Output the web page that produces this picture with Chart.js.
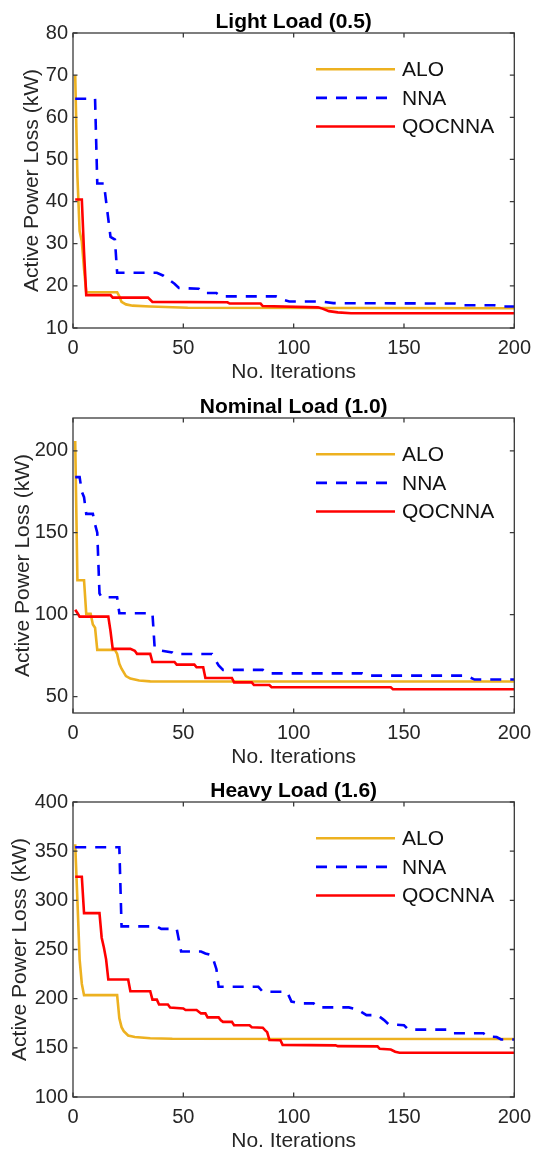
<!DOCTYPE html>
<html>
<head>
<meta charset="utf-8">
<script src="https://cdn.jsdelivr.net/npm/chart.js@4.4.1/dist/chart.umd.min.js"></script>
<style>
  html, body { margin: 0; padding: 0; background: #fff; overflow: hidden; }
  .panel { position: absolute; left: 0; width: 539px; height: 385px; }
</style>
</head>
<body>
<div class="panel" style="top:0"><canvas id="light" width="539" height="385"></canvas></div>
<div class="panel" style="top:385px"><canvas id="nominal" width="539" height="385"></canvas></div>
<div class="panel" style="top:769px"><canvas id="heavy" width="539" height="385"></canvas></div>
<script>
const seriesNames = ['ALO', 'NNA', 'QOCNNA'];
const iterTicks = [0, 50, 100, 150, 200];
const lightTicks = [10, 20, 30, 40, 50, 60, 70, 80];
const nominalTicks = [50, 100, 150, 200];
const heavyTicks = [100, 150, 200, 250, 300, 350, 400];

// convergence curves, [iteration, loss in kW]
const lightALO = [[1,70],[2,46],[3,33],[4,30.5],[5,24],[6,18.5],[20,18.5],[21,17.5],[22,16.2],[24,15.6],[27,15.3],[35,15.1],[52,14.8],[200,14.7]];
const lightNNA = [[1,64.4],[10,64.4],[11,44.3],[14,44.3],[17,31.6],[19,31],[20,23.1],[38,23.1],[41,22.4],[46,20.5],[48,19.5],[57,19.3],[59,18.3],[65,18.3],[67,17.5],[92,17.5],[96,16.6],[98,16.3],[112,16.3],[118,15.9],[173,15.8],[176,15.4],[191,15.4],[194,15.1],[200,15.1]];
const lightQOCNNA = [[1,40.5],[4,40.5],[5,28],[6,17.8],[17,17.8],[18,17.2],[34,17.2],[36,16.2],[70,16.1],[71,15.8],[85,15.8],[86,15.2],[111,14.9],[113,14.6],[116,14.0],[120,13.7],[126,13.5],[200,13.5]];

const nominalALO = [[1,206],[2,121],[5,121],[6,100.5],[8,100.5],[9,94],[10,92],[11,78.5],[19,78.5],[20,76],[21,70],[22,67],[24,62.5],[26,61],[30,59.8],[35,59.3],[200,59.2]];
const nominalNNA = [[1,183.9],[3,183.9],[4,175],[5,171.7],[6,161.5],[9,161.5],[10,155],[11,150],[12,113],[13,110.6],[20,110.6],[21,100.9],[36,100.9],[37,80],[40,78.1],[45,77],[46,76],[63,76],[66,69],[68,66.3],[86,66.3],[88,64.2],[131,64.2],[133,62.8],[178,62.8],[182,60.4],[200,60.4]];
const nominalQOCNNA = [[1,103],[2,101],[3,98.8],[16,98.8],[17,90],[18,79.1],[26,79.1],[28,78],[29,76.1],[35,76.1],[36,71.1],[46,71.1],[47,69.5],[55,69.5],[56,67.9],[59,67.9],[60,61.4],[72,61.4],[73,58.7],[81,58.7],[82,57.1],[89,57.1],[90,55.7],[144,55.7],[145,54.5],[200,54.5]];

const heavyALO = [[1,357],[2,300],[3,240],[4,215],[5,203.6],[20,203.6],[21,180],[22,171],[23,167],[25,162.5],[28,161],[35,159.8],[45,159.2],[200,159]];
const heavyNNA = [[1,354],[21,354],[22,273.5],[38,273.5],[40,271],[47,271],[49,248],[58,248],[60,246],[63,244],[65,230],[66,212.1],[84,212.1],[86,207],[97,207],[99,197],[103,195.2],[109,195.2],[111,191.1],[125,191.1],[129,189],[131,186],[133,183.3],[138,183.3],[141,178.2],[143,174],[150,173],[152,168.5],[170,168.5],[172,164.8],[186,164.8],[188,161.5],[192,161],[194,158.5],[200,158.5]];
const heavyQOCNNA = [[1,324],[4,324],[5,287],[12,287],[13,262],[14,252],[15,240],[16,219.5],[25,219.5],[26,207.5],[35,207.5],[36,199],[38,199],[39,194],[43,194],[44,191],[50,190],[51,188.5],[56,188.5],[58,185],[60,185],[61,181],[66,181],[67,178],[68,176.4],[72,176.4],[73,173],[80,173],[81,171],[86,170.5],[87,168],[88,166],[89,158],[94,157.8],[95,153],[119,152.5],[120,151.7],[138,151.5],[139,149],[144,148.3],[146,146],[148,145],[200,145]];

const FONT = 'Arial, "Liberation Sans", Helvetica, sans-serif';
const INK = '#262626';

// axes box, inward ticks, title and legend drawn like MATLAB
const boxPlugin = {
  id: 'box',
  afterDatasetsDraw(chart, args, opts) {
    const { ctx, chartArea: a } = chart;
    const x = chart.scales.x, y = chart.scales.y;
    ctx.save();
    ctx.strokeStyle = '#3a3a3a';
    ctx.lineWidth = 1.3;
    ctx.setLineDash([]);
    ctx.strokeRect(a.left, a.top, a.right - a.left, a.bottom - a.top);
    const len = 4.5;
    ctx.beginPath();
    x.ticks.forEach(t => {
      const px = x.getPixelForValue(t.value);
      ctx.moveTo(px, a.bottom); ctx.lineTo(px, a.bottom - len);
      ctx.moveTo(px, a.top); ctx.lineTo(px, a.top + len);
    });
    y.ticks.forEach(t => {
      const py = y.getPixelForValue(t.value);
      ctx.moveTo(a.left, py); ctx.lineTo(a.left + len, py);
      ctx.moveTo(a.right, py); ctx.lineTo(a.right - len, py);
    });
    ctx.stroke();

    ctx.fillStyle = '#000';
    ctx.font = 'bold 21px ' + FONT;
    ctx.textAlign = 'center';
    ctx.textBaseline = 'alphabetic';
    ctx.fillText(opts.title, (a.left + a.right) / 2, a.top - 5);

    ctx.font = '21px ' + FONT;
    ctx.textAlign = 'left';
    ctx.textBaseline = 'middle';
    chart.data.datasets.forEach((ds, i) => {
      const ly = a.top + 36.3 + i * 28.6;
      ctx.strokeStyle = ds.borderColor;
      ctx.lineWidth = ds.borderWidth;
      ctx.setLineDash(ds.borderDash || []);
      ctx.beginPath();
      ctx.moveTo(a.left + 243, ly);
      ctx.lineTo(a.left + 322, ly);
      ctx.stroke();
      ctx.fillStyle = '#111';
      ctx.fillText(ds.label, a.left + 329, ly + 1);
    });
    ctx.restore();
  }
};

function toXY(pairs) {
  return pairs.map(([x, y]) => ({ x, y }));
}

function makeChart(id, title, yTicks, yMin, yMax, alo, nna, qoc, yTitlePad) {
  return new Chart(document.getElementById(id), {
    type: 'line',
    data: {
      datasets: [
        { label: seriesNames[0], data: toXY(alo), borderColor: '#EDB120', borderWidth: 2.6, order: 2 },
        { label: seriesNames[1], data: toXY(nna), borderColor: '#0000FF', borderWidth: 2.6, borderDash: [11, 9], order: 1 },
        { label: seriesNames[2], data: toXY(qoc), borderColor: '#FF0000', borderWidth: 2.6, order: 0 }
      ]
    },
    options: {
      responsive: false,
      animation: false,
      devicePixelRatio: 1,
      layout: { padding: { top: 33, right: 19, bottom: 0, left: 0 } },
      elements: { point: { radius: 0 }, line: { tension: 0 } },
      plugins: {
        legend: { display: false },
        tooltip: { enabled: false },
        box: { title: title }
      },
      scales: {
        x: {
          type: 'linear', min: 0, max: 200,
          afterBuildTicks: s => { s.ticks = iterTicks.map(v => ({ value: v })); },
          afterFit: s => { s.height = 57; },
          grid: { display: false, drawTicks: false },
          border: { display: false },
          ticks: { color: INK, font: { family: FONT, size: 20 }, padding: 8, maxRotation: 0, autoSkip: false },
          title: { display: true, text: 'No. Iterations', color: INK, font: { family: FONT, size: 21 }, padding: 0 }
        },
        y: {
          type: 'linear', min: yMin, max: yMax,
          afterBuildTicks: s => { s.ticks = yTicks.map(v => ({ value: v })); },
          afterFit: s => { s.width = 73; },
          grid: { display: false, drawTicks: false },
          border: { display: false },
          ticks: { color: INK, font: { family: FONT, size: 20 }, padding: 5, autoSkip: false },
          title: { display: true, text: 'Active Power Loss (kW)', color: INK, font: { family: FONT, size: 21 }, padding: { top: yTitlePad, bottom: 0 } }
        }
      }
    },
    plugins: [boxPlugin]
  });
}

makeChart('light', 'Light Load (0.5)', lightTicks, 10, 80, lightALO, lightNNA, lightQOCNNA, 20);
makeChart('nominal', 'Nominal Load (1.0)', nominalTicks, 40, 220, nominalALO, nominalNNA, nominalQOCNNA, 11);
makeChart('heavy', 'Heavy Load (1.6)', heavyTicks, 100, 400, heavyALO, heavyNNA, heavyQOCNNA, 8);
</script>
</body>
</html>
